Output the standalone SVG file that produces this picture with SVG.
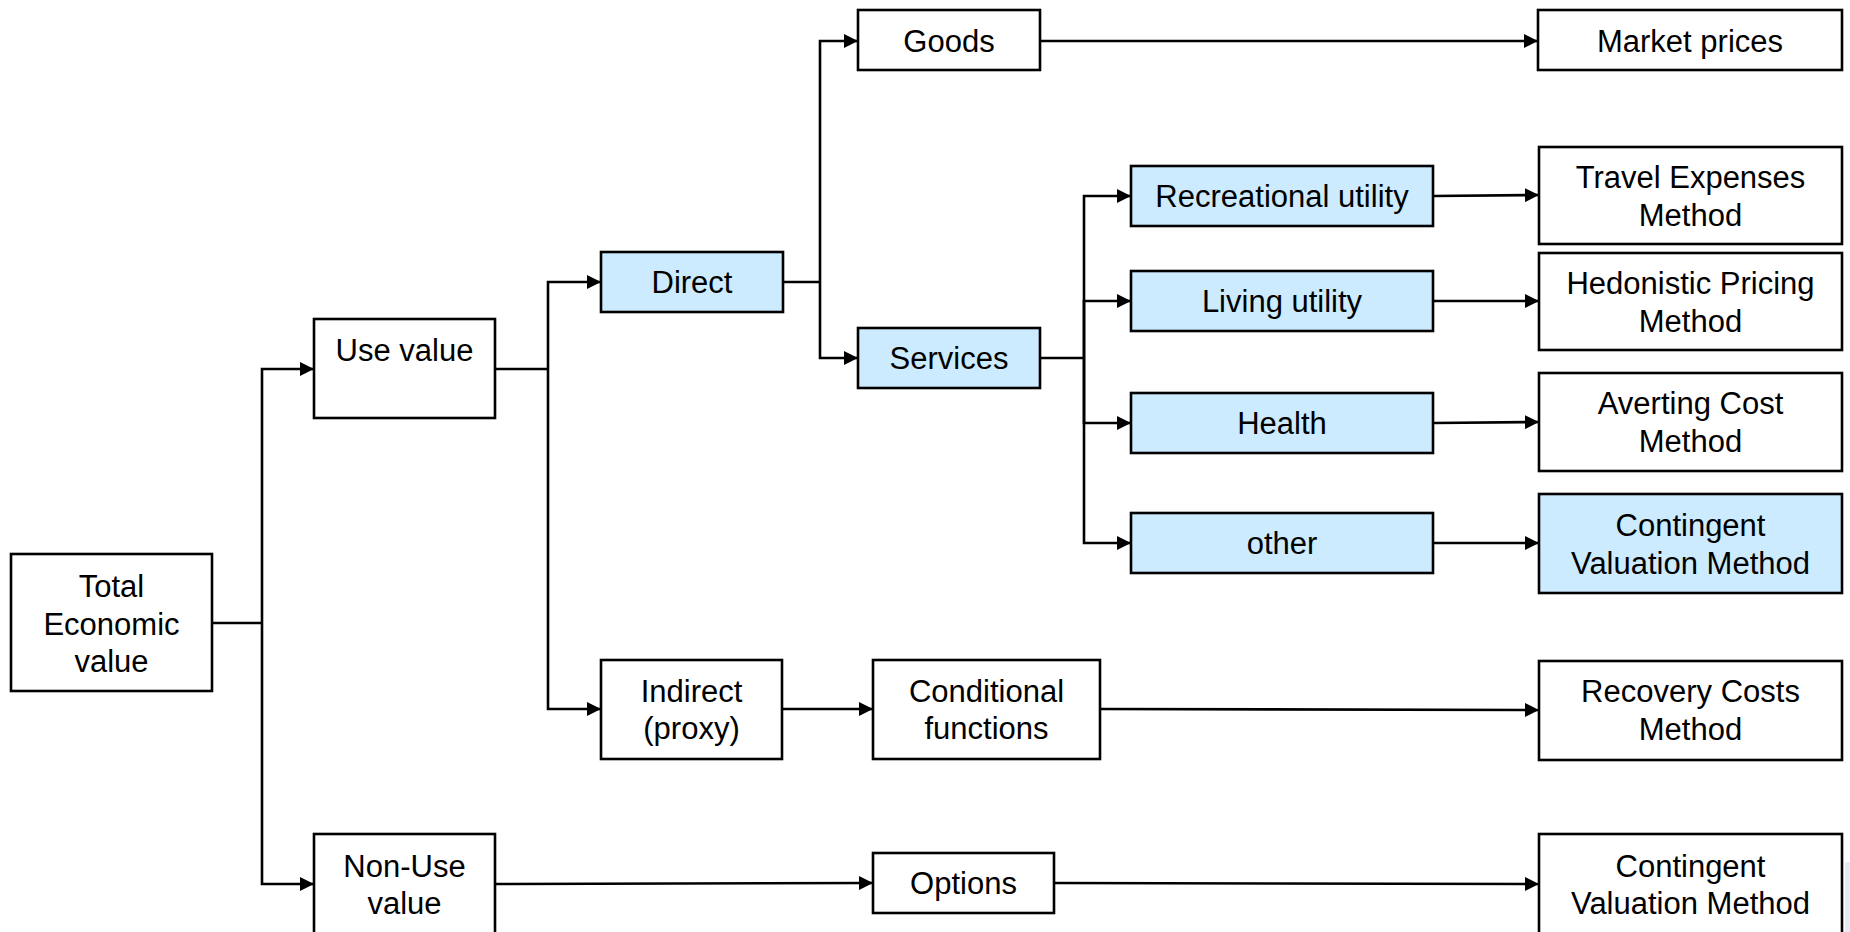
<svg xmlns="http://www.w3.org/2000/svg" width="1850" height="932" viewBox="0 0 1850 932">
<style>
.box{fill:#ffffff;stroke:#000000;stroke-width:2.6}
.blue{fill:#ccebff}
.t{font-family:"Liberation Sans",Arial,sans-serif;font-size:31px;fill:#000000;text-anchor:middle}
.c{fill:none;stroke:#000000;stroke-width:2.6}
.a{fill:none;stroke:#000000;stroke-width:2.6;marker-end:url(#arr)}
</style>
<defs>
<marker id="arr" markerWidth="14" markerHeight="14" refX="14" refY="7" orient="auto" markerUnits="userSpaceOnUse">
<path d="M0,0 L14,7 L0,14 Z" fill="#000000"/>
</marker>
</defs>
<rect x="0" y="0" width="1850" height="932" fill="#ffffff"/>
<rect x="1845" y="862" width="5" height="70" fill="#e6eaf2"/>
<g id="connectors">
<polyline class="c" points="212,623 262,623"/>
<polyline class="a" points="262,623 262,369 314,369"/>
<polyline class="a" points="262,623 262,884 314,884"/>
<polyline class="c" points="495,369 548,369"/>
<polyline class="a" points="548,369 548,282 601,282"/>
<polyline class="a" points="548,369 548,709 601,709"/>
<polyline class="c" points="783,282 820,282"/>
<polyline class="a" points="820,282 820,41 858,41"/>
<polyline class="a" points="820,282 820,358 858,358"/>
<polyline class="a" points="1040,41 1538,41"/>
<polyline class="c" points="1040,358 1084,358"/>
<polyline class="a" points="1084,358 1084,196 1131,196"/>
<polyline class="a" points="1084,358 1084,301 1131,301"/>
<polyline class="a" points="1084,358 1084,423 1131,423"/>
<polyline class="a" points="1084,358 1084,543 1131,543"/>
<polyline class="a" points="1433,196 1539,195"/>
<polyline class="a" points="1433,301 1539,301"/>
<polyline class="a" points="1433,423 1539,422"/>
<polyline class="a" points="1433,543 1539,543"/>
<polyline class="a" points="782,709 873,709"/>
<polyline class="a" points="1100,709 1539,710"/>
<polyline class="a" points="495,884 873,883"/>
<polyline class="a" points="1054,883 1539,884"/>
</g>
<g id="n-tev"><rect class="box" x="11" y="554" width="201" height="137"/><text class="t" x="111.5" y="597">Total</text><text class="t" x="111.5" y="634.5">Economic</text><text class="t" x="111.5" y="672">value</text></g>
<g id="n-use"><rect class="box" x="314" y="319" width="181" height="99"/><text class="t" x="404.5" y="361">Use value</text></g>
<g id="n-nonuse"><rect class="box" x="314" y="834" width="181" height="100"/><text class="t" x="404.5" y="877">Non-Use</text><text class="t" x="404.5" y="914">value</text></g>
<g id="n-direct"><rect class="box blue" x="601" y="252" width="182" height="60"/><text class="t" x="692" y="293">Direct</text></g>
<g id="n-indirect"><rect class="box" x="601" y="660" width="181" height="99"/><text class="t" x="691.5" y="702">Indirect</text><text class="t" x="691.5" y="739">(proxy)</text></g>
<g id="n-goods"><rect class="box" x="858" y="10" width="182" height="60"/><text class="t" x="949" y="52">Goods</text></g>
<g id="n-services"><rect class="box blue" x="858" y="328" width="182" height="60"/><text class="t" x="949" y="369">Services</text></g>
<g id="n-conditional"><rect class="box" x="873" y="660" width="227" height="99"/><text class="t" x="986.5" y="702">Conditional</text><text class="t" x="986.5" y="739">functions</text></g>
<g id="n-options"><rect class="box" x="873" y="853" width="181" height="60"/><text class="t" x="963.5" y="894">Options</text></g>
<g id="n-recreational"><rect class="box blue" x="1131" y="166" width="302" height="60"/><text class="t" x="1282" y="207">Recreational utility</text></g>
<g id="n-living"><rect class="box blue" x="1131" y="271" width="302" height="60"/><text class="t" x="1282" y="312">Living utility</text></g>
<g id="n-health"><rect class="box blue" x="1131" y="393" width="302" height="60"/><text class="t" x="1282" y="434">Health</text></g>
<g id="n-other"><rect class="box blue" x="1131" y="513" width="302" height="60"/><text class="t" x="1282" y="554">other</text></g>
<g id="n-market"><rect class="box" x="1538" y="10" width="304" height="60"/><text class="t" x="1690" y="52">Market prices</text></g>
<g id="n-travel"><rect class="box" x="1539" y="147" width="303" height="97"/><text class="t" x="1690.5" y="187.5">Travel Expenses</text><text class="t" x="1690.5" y="225.5">Method</text></g>
<g id="n-hedonistic"><rect class="box" x="1539" y="253" width="303" height="97"/><text class="t" x="1690.5" y="293.5">Hedonistic Pricing</text><text class="t" x="1690.5" y="331.5">Method</text></g>
<g id="n-averting"><rect class="box" x="1539" y="373" width="303" height="98"/><text class="t" x="1690.5" y="414">Averting Cost</text><text class="t" x="1690.5" y="452">Method</text></g>
<g id="n-cvm1"><rect class="box blue" x="1539" y="494" width="303" height="99"/><text class="t" x="1690.5" y="535.5">Contingent</text><text class="t" x="1690.5" y="573.5">Valuation Method</text></g>
<g id="n-recovery"><rect class="box" x="1539" y="661" width="303" height="99"/><text class="t" x="1690.5" y="702">Recovery Costs</text><text class="t" x="1690.5" y="740">Method</text></g>
<g id="n-cvm2"><rect class="box" x="1539" y="834" width="303" height="100"/><text class="t" x="1690.5" y="877">Contingent</text><text class="t" x="1690.5" y="914">Valuation Method</text></g>
</svg>
